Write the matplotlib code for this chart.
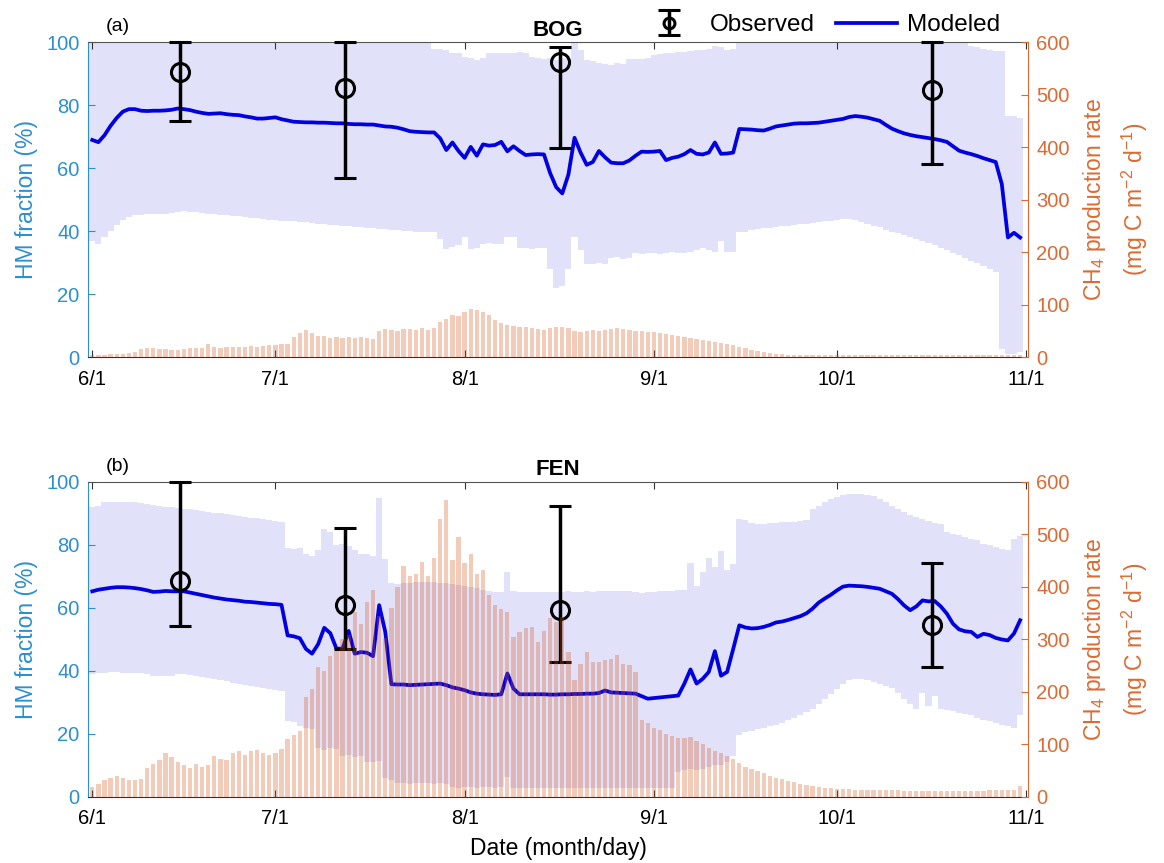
import matplotlib
matplotlib.use('Agg')
import matplotlib.pyplot as plt
import numpy as np

plt.rcParams['font.family'] = ['Liberation Sans', 'DejaVu Sans']
plt.rcParams['mathtext.fontset'] = 'custom'
plt.rcParams['mathtext.rm'] = 'Liberation Sans'
plt.rcParams['mathtext.it'] = 'Liberation Sans:italic'
plt.rcParams['mathtext.default'] = 'regular'

# day index from 6/1 (0) to 10/31 (152)
days = np.arange(153)
tick_days = [0, 30, 61, 92, 122, 153]
tick_labels = ['6/1', '7/1', '8/1', '9/1', '10/1', '11/1']

# ---- BOG ----
bog_hi = [100, 100, 100, 100, 100, 100, 100, 100, 100, 100,
          100, 100, 100, 100, 100, 100, 100, 100, 100, 100,
          100, 100, 100, 100, 100, 100, 100, 100, 100, 100,
          100, 100, 100, 100, 100, 100, 100, 100, 100, 100,
          100, 100, 100, 100, 100, 100, 100, 100, 100, 100,
          100, 100, 100, 100, 100, 100, 98, 98, 97.5, 96.8,
          96.5, 95.5, 95, 94.5, 95, 96.8, 96.8, 96.5, 96.5, 96.8,
          97, 96.5, 95.5, 95, 94.6, 95, 94.5, 95, 95.2, 100,
          97.6, 94.5, 94, 93.5, 93, 92.8, 93.5, 93, 94.9, 94.9,
          94.9, 95, 96, 96.3, 96.5, 96.8, 97, 97, 97.3, 97.5,
          97.6, 98, 99, 98.5, 97.6, 97.8, 100, 100, 100, 100,
          100, 100, 100, 100, 100, 100, 100, 100, 100, 100,
          100, 100, 100, 100, 100, 100, 100, 100, 100, 100,
          100, 100, 100, 100, 100, 100, 100, 100, 100, 100,
          100, 100, 100, 100, 99, 98.5, 98, 97.5, 97.4, 97.4,
          76.5, 76.5, 76]
bog_lo = [37, 36, 38, 40, 42, 43.5, 44.5, 45, 45.2, 45.4,
          45.5, 45.5, 45.6, 45.8, 46.0, 46.4, 46.2, 46.0, 45.8, 45.6,
          45.4, 45.3, 45.1, 44.9, 44.7, 44.5, 44.3, 44.1, 43.9, 43.7,
          43.6, 43.4, 43.3, 43.1, 42.9, 42.8, 42.6, 42.4, 42.3, 42.1,
          41.9, 41.8, 41.6, 41.4, 41.3, 41.1, 40.9, 40.8, 40.6, 40.4,
          40.3, 40.1, 40.0, 39.8, 39.7, 39.7, 39.6, 37.5, 34.4, 35.0,
          35.5, 38.0, 34.4, 34.8, 36.0, 36.2, 35.8, 36.0, 38.0, 38.2,
          34.5, 34.8, 34.3, 34.6, 34.5, 28.0, 22.0, 22.5, 28.0, 38.0,
          34.0, 29.7, 29.5, 30.0, 29.7, 31.5, 31.8, 31.2, 31.5, 33.0,
          32.8, 33.2, 33.0, 32.6, 33.0, 33.4, 33.0, 33.2, 33.5, 34.0,
          34.5, 34.0, 33.5, 37.0, 33.5, 33.5, 39.9, 39.9, 40.4, 40.6,
          40.9, 41.1, 41.3, 41.5, 41.7, 41.9, 42.2, 42.4, 42.6, 42.8,
          43.1, 43.3, 43.6, 43.9, 43.9, 43.6, 43.0, 42.4, 41.8, 41.2,
          40.5, 39.9, 39.3, 38.7, 38.1, 37.4, 36.8, 36.2, 35.6, 34.8,
          34.0, 33.1, 32.3, 31.4, 30.6, 29.8, 29.0, 28.1, 27.0, 2.5,
          1.0, 1.0, 1.5]
bog_model = [69.0, 68.3, 70.5, 73.5, 76.0, 78.0, 78.8, 78.8, 78.3, 78.2,
             78.3, 78.3, 78.4, 78.6, 79.0, 78.8, 78.5, 78.0, 77.6, 77.3,
             77.4, 77.5, 77.2, 77.0, 76.9, 76.5, 76.2, 75.8, 75.8, 76.0,
             76.2, 75.6, 75.2, 74.8, 74.7, 74.6, 74.6, 74.5, 74.5, 74.4,
             74.3, 74.3, 74.1, 74.0, 74.0, 73.9, 73.9, 73.6, 73.3, 73.2,
             72.9, 72.4, 71.8, 71.6, 71.5, 71.4, 71.4, 69.5, 65.8, 68.2,
             65.5, 63.3, 66.8, 64.0, 67.6, 67.2, 67.4, 68.4, 65.4, 67.0,
             65.5, 64.2, 64.4, 64.5, 64.4, 58.5, 54.0, 52.0, 58.0, 69.7,
             65.0, 61.1, 62.0, 65.5, 63.5, 61.8, 61.6, 61.6, 62.5, 64.0,
             65.3, 65.2, 65.3, 65.5, 62.6, 63.3, 63.7, 64.5, 65.8, 64.6,
             64.4, 65.0, 68.2, 64.6, 64.7, 65.0, 72.5, 72.4, 72.3, 72.1,
             72.0, 72.6, 73.3, 73.6, 73.9, 74.2, 74.3, 74.3, 74.4, 74.5,
             74.8, 75.1, 75.4, 75.7, 76.3, 76.6, 76.4, 76.1, 75.6, 75.1,
             73.8, 72.6, 71.8, 71.1, 70.6, 70.2, 69.9, 69.6, 69.3, 68.9,
             68.4, 67.0, 65.6, 65.0, 64.5, 63.9, 63.2, 62.6, 62.0, 55.0,
             38.0, 39.5, 38.0]
bog_ch4 = [4, 4, 4, 5, 5, 6, 8, 10, 16, 17,
           17, 16, 15, 13, 14, 15, 17, 18, 18, 25,
           19, 18, 19, 20, 20, 20, 21, 20, 21, 22,
           23, 24, 25, 38, 46, 51, 46, 40, 41, 37,
           38, 36, 38, 37, 38, 36, 34, 50, 54, 52,
           50, 53, 54, 52, 55, 52, 55, 66, 72, 80,
           78, 86, 92, 90, 86, 80, 70, 64, 62, 60,
           58, 57, 56, 54, 52, 56, 58, 57, 55, 50,
           48, 50, 51, 50, 52, 54, 55, 53, 52, 50,
           49, 48, 48, 46, 44, 42, 40, 38, 36, 34,
           32, 30, 29, 27, 25, 22, 20, 17, 14, 11,
           9, 7, 6, 5, 4, 4, 4, 4, 4, 4,
           4, 4, 4, 4, 4, 3, 3, 3, 3, 3,
           3, 3, 3, 3, 3, 3, 3, 3, 3, 3,
           3, 3, 3, 3, 3, 3, 3, 3, 3, 3,
           3, 3, 4]
bog_obs_day = [14.4, 41.4, 76.6, 137.6]
bog_obs = [90.5, 85.4, 93.9, 84.9]
bog_obs_lo = [75.0, 57.0, 66.5, 61.5]
bog_obs_hi = [100, 100, 98.4, 100]

# ---- FEN ----
fen_hi = [92.0, 92.5, 93.5, 93.8, 93.8, 93.7, 93.6, 93.5, 93.3, 93.0,
          92.6, 92.4, 92.2, 92.0, 91.8, 91.5, 91.3, 91.0, 90.8, 90.5,
          90.3, 90.0, 89.8, 89.5, 89.2, 89.0, 88.7, 88.5, 88.2, 87.9,
          87.6, 87.3, 79.0, 78.8, 79.0, 77.0, 76.5, 78.3, 85.0, 84.0,
          80.0, 80.2, 79.8, 78.3, 77.0, 77.2, 76.6, 95.0, 75.7, 68.0,
          67.5, 67.8, 68.0, 68.2, 68.3, 68.4, 68.3, 68.0, 67.8, 67.5,
          67.2, 67.0, 66.6, 66.2, 65.8, 65.3, 65.1, 65.2, 71.3, 65.4,
          65.0, 65.2, 65.1, 65.0, 65.2, 65.1, 65.0, 65.2, 65.3, 65.0,
          65.1, 65.3, 65.2, 65.4, 65.5, 65.3, 65.4, 65.5, 65.3, 65.0,
          64.8, 65.0, 65.1, 65.3, 65.4, 65.5, 65.6, 65.8, 74.3, 67.0,
          71.3, 76.0, 73.0, 78.0, 72.0, 74.0, 88.4, 88.0, 87.0, 86.8,
          86.8, 87.0, 87.0, 87.2, 87.3, 87.4, 87.5, 87.8, 91.5, 92.5,
          93.5, 94.5, 95.3, 95.8, 96.2, 96.3, 96.3, 96.0, 95.5, 94.5,
          93.5, 92.5, 91.3, 90.5, 89.4, 88.8, 88.2, 87.7, 87.1, 86.6,
          84.1, 83.6, 83.1, 82.6, 82.0, 81.5, 80.4, 79.9, 79.4, 78.8,
          78.3, 82.0, 83.0]
fen_lo = [39.0, 39.4, 39.5, 39.6, 39.6, 39.5, 39.5, 39.4, 39.3, 39.2,
          38.4, 38.4, 38.3, 38.4, 39.0, 38.9, 38.6, 38.3, 38.0, 37.7,
          37.3, 37.0, 36.7, 36.3, 36.0, 35.7, 35.3, 35.0, 34.6, 34.3,
          34.0, 33.6, 24.0, 23.8, 22.5, 22.0, 21.5, 15.5, 15.0, 15.7,
          15.2, 13.0, 13.2, 12.8, 13.0, 11.2, 11.0, 11.4, 6.0, 5.5,
          4.5, 4.3, 4.2, 4.3, 4.4, 4.3, 4.2, 4.3, 4.0, 3.2,
          3.0, 3.1, 3.2, 3.0, 3.1, 3.2, 3.0, 3.2, 6.4, 2.8,
          2.8, 2.9, 2.8, 2.7, 2.8, 2.9, 2.8, 2.8, 2.7, 2.8,
          2.8, 2.9, 2.8, 2.8, 2.7, 2.8, 2.9, 2.8, 2.8, 2.8,
          2.7, 2.8, 2.8, 2.9, 2.8, 2.8, 8.0, 8.5, 9.0, 8.5,
          9.0, 9.5, 10.0, 10.0, 11.0, 13.0, 19.6, 20.5, 21.0, 21.5,
          22.0, 22.5, 23.0, 23.4, 24.3, 25.2, 26.1, 27.0, 28.0, 29.6,
          31.1, 32.7, 34.3, 36.0, 37.0, 37.6, 37.5, 37.0, 36.4, 35.8,
          35.1, 34.5, 32.9, 31.2, 29.6, 28.0, 33.0, 29.0, 32.0, 28.0,
          27.6, 27.2, 26.8, 26.4, 26.0, 25.0, 24.5, 24.0, 23.5, 23.0,
          22.5, 22.0, 26.0]
fen_model = [65.3, 65.8, 66.1, 66.4, 66.6, 66.6, 66.5, 66.3, 66.0, 65.6,
             65.1, 65.2, 65.4, 65.3, 65.3, 65.3, 64.9, 64.5, 64.1, 63.7,
             63.3, 63.0, 62.7, 62.5, 62.3, 62.0, 61.9, 61.7, 61.5, 61.3,
             61.2, 61.0, 51.3, 51.0, 50.4, 47.0, 45.5, 48.5, 53.7, 52.0,
             47.1, 47.1, 52.7, 45.5, 46.0, 45.8, 44.7, 60.9, 52.4, 35.8,
             35.7, 35.7, 35.5, 35.6, 35.7, 35.8, 35.9, 36.0, 35.5, 34.8,
             34.4, 33.9, 33.2, 32.8, 32.6, 32.5, 32.4, 32.6, 39.2, 34.4,
             32.6, 32.6, 32.6, 32.6, 32.6, 32.5, 32.5, 32.6, 32.6, 32.7,
             32.7, 32.8, 32.8, 33.0, 33.8, 33.2, 33.1, 33.0, 32.9, 32.8,
             32.0, 31.2, 31.4, 31.6, 31.8, 32.0, 32.2, 36.0, 40.5, 36.0,
             37.5, 39.7, 46.3, 38.5, 39.7, 47.0, 54.5, 53.8, 53.5, 53.6,
             54.0, 54.6, 55.4, 55.7, 56.2, 56.8, 57.4, 58.3, 59.8, 61.7,
             63.0, 64.2, 65.6, 66.8, 67.1, 67.0, 66.9, 66.7, 66.4, 66.1,
             65.3, 64.5, 62.8, 60.8, 59.3, 60.5, 62.4, 62.1, 62.2, 60.5,
             58.2, 55.0, 53.2, 52.6, 52.4, 50.8, 51.8, 51.4, 50.5, 50.0,
             49.7, 51.9, 56.1]
fen_ch4 = [19, 25, 33, 37, 40, 36, 33, 32, 35, 55,
           62, 70, 84, 76, 66, 60, 56, 62, 58, 60,
           78, 72, 70, 84, 88, 80, 88, 90, 84, 80,
           84, 92, 110, 118, 125, 190, 206, 248, 240, 268,
           278, 300, 308, 352, 330, 372, 394, 345, 302, 360,
           400, 440, 420, 425, 448, 420, 455, 530, 565, 452,
           495, 446, 463, 425, 432, 385, 366, 358, 352, 305,
           314, 321, 324, 295, 317, 340, 333, 343, 276, 222,
           254, 277, 257, 257, 260, 263, 270, 254, 251, 238,
           146, 140, 132, 127, 120, 116, 112, 112, 114, 106,
           100, 94, 88, 83, 78, 72, 64, 58, 54, 50,
           46, 40, 36, 34, 31, 28, 24, 22, 20, 19,
           18, 17, 16, 15, 15, 14, 14, 14, 13, 13,
           13, 13, 13, 12, 12, 12, 12, 12, 12, 12,
           12, 12, 12, 12, 12, 12, 12, 13, 13, 13,
           13, 13, 20]
fen_obs_day = [14.4, 41.4, 76.6, 137.6]
fen_obs = [68.5, 60.9, 59.5, 54.5]
fen_obs_lo = [54.3, 47.1, 42.7, 41.3]
fen_obs_hi = [100, 85.5, 92.3, 74.4]

left_c = '#2b8fd0'
right_c = '#dc6a32'
band_c = '#e1e1fa'
line_c = '#0000e0'
bar_c = '#d95319'
frame_c = '#555555'


def draw_panel(ax, hi, lo, model, ch4, od, ov, olo, ohi, title, tag):
    # stepped band spanning each day
    edges = np.append(days - 0.5, days[-1] + 0.5)
    ax.fill_between(edges, np.append(lo, lo[-1]), np.append(hi, hi[-1]),
                    step='post', color=band_c, lw=0, zorder=1)
    line, = ax.plot(days, model, color=line_c, lw=2.7, zorder=3,
                    label='Modeled')
    ov = np.array(ov)
    yerr = [ov - np.array(olo), np.array(ohi) - ov]
    eb = ax.errorbar(od, ov, yerr=yerr, fmt='o', mfc='none', mec='k',
                     color='k', ms=13, mew=2.2, elinewidth=2.5,
                     capsize=8, capthick=2.5, zorder=4, label='Observed')
    for art in eb.lines[1] + eb.lines[2] + (eb.lines[0],):
        art.set_clip_on(False)

    ax.set_xlim(-0.7, 153.3)
    ax.set_ylim(0, 100)
    ax.set_yticks(range(0, 101, 20))
    ax.set_xticks(tick_days)
    ax.set_xticklabels(tick_labels)
    ax.tick_params(axis='x', direction='in', top=True, length=5,
                   labelsize=14.5, pad=9, color='#333333')
    ax.tick_params(axis='y', direction='in', length=5, colors=left_c,
                   labelsize=14.5, pad=6)
    ax.set_ylabel('HM fraction (%)', color=left_c, fontsize=16.5, labelpad=6)
    ax.spines['left'].set_color(left_c)
    ax.spines['right'].set_visible(False)
    ax.spines['top'].set_color(frame_c)
    ax.spines['bottom'].set_color('#333333')
    ax.set_title(title, fontsize=16, fontweight='bold', pad=5)
    ax.text(0.019, 1.05, tag, transform=ax.transAxes, fontsize=14,
            va='center', ha='left')

    ax2 = ax.twinx()
    ax2.bar(days, ch4, width=0.7, color=bar_c, alpha=0.3, lw=0, zorder=2)
    ax2.set_ylim(0, 600)
    ax2.set_yticks(range(0, 601, 100))
    ax2.tick_params(axis='y', direction='in', length=5, colors=right_c,
                    labelsize=14.5, pad=6)
    ax2.set_ylabel('CH$_4$ production rate\n(mg C m$^{-2}$ d$^{-1}$)',
                   color=right_c, fontsize=16.5, labelpad=8, linespacing=1.5)
    ax2.spines['right'].set_color(right_c)
    for s in ['left', 'top', 'bottom']:
        ax2.spines[s].set_visible(False)
    ax.set_xlim(-0.7, 153.3)
    return eb, line


fig = plt.figure(figsize=(11.64, 8.63), dpi=100)
ax_a = fig.add_axes([0.0756, 0.5863, 0.8076, 0.3645])
ax_b = fig.add_axes([0.0756, 0.0765, 0.8076, 0.365])

eb, line = draw_panel(ax_a, bog_hi, bog_lo, bog_model, bog_ch4, bog_obs_day,
                      bog_obs, bog_obs_lo, bog_obs_hi, 'BOG', '(a)')
draw_panel(ax_b, fen_hi, fen_lo, fen_model, fen_ch4, fen_obs_day,
           fen_obs, fen_obs_lo, fen_obs_hi, 'FEN', '(b)')
ax_b.set_xlabel('Date (month/day)', fontsize=16.5, labelpad=6)

fig.legend([eb, line], ['Observed', 'Modeled'], loc='center left',
           bbox_to_anchor=(0.549, 0.971), ncol=2, frameon=False,
           fontsize=17.5, handlelength=2.5, handletextpad=0.4,
           columnspacing=0.9, borderpad=0, borderaxespad=0, markerscale=0.6)

fig.savefig('out.png', dpi=100)
